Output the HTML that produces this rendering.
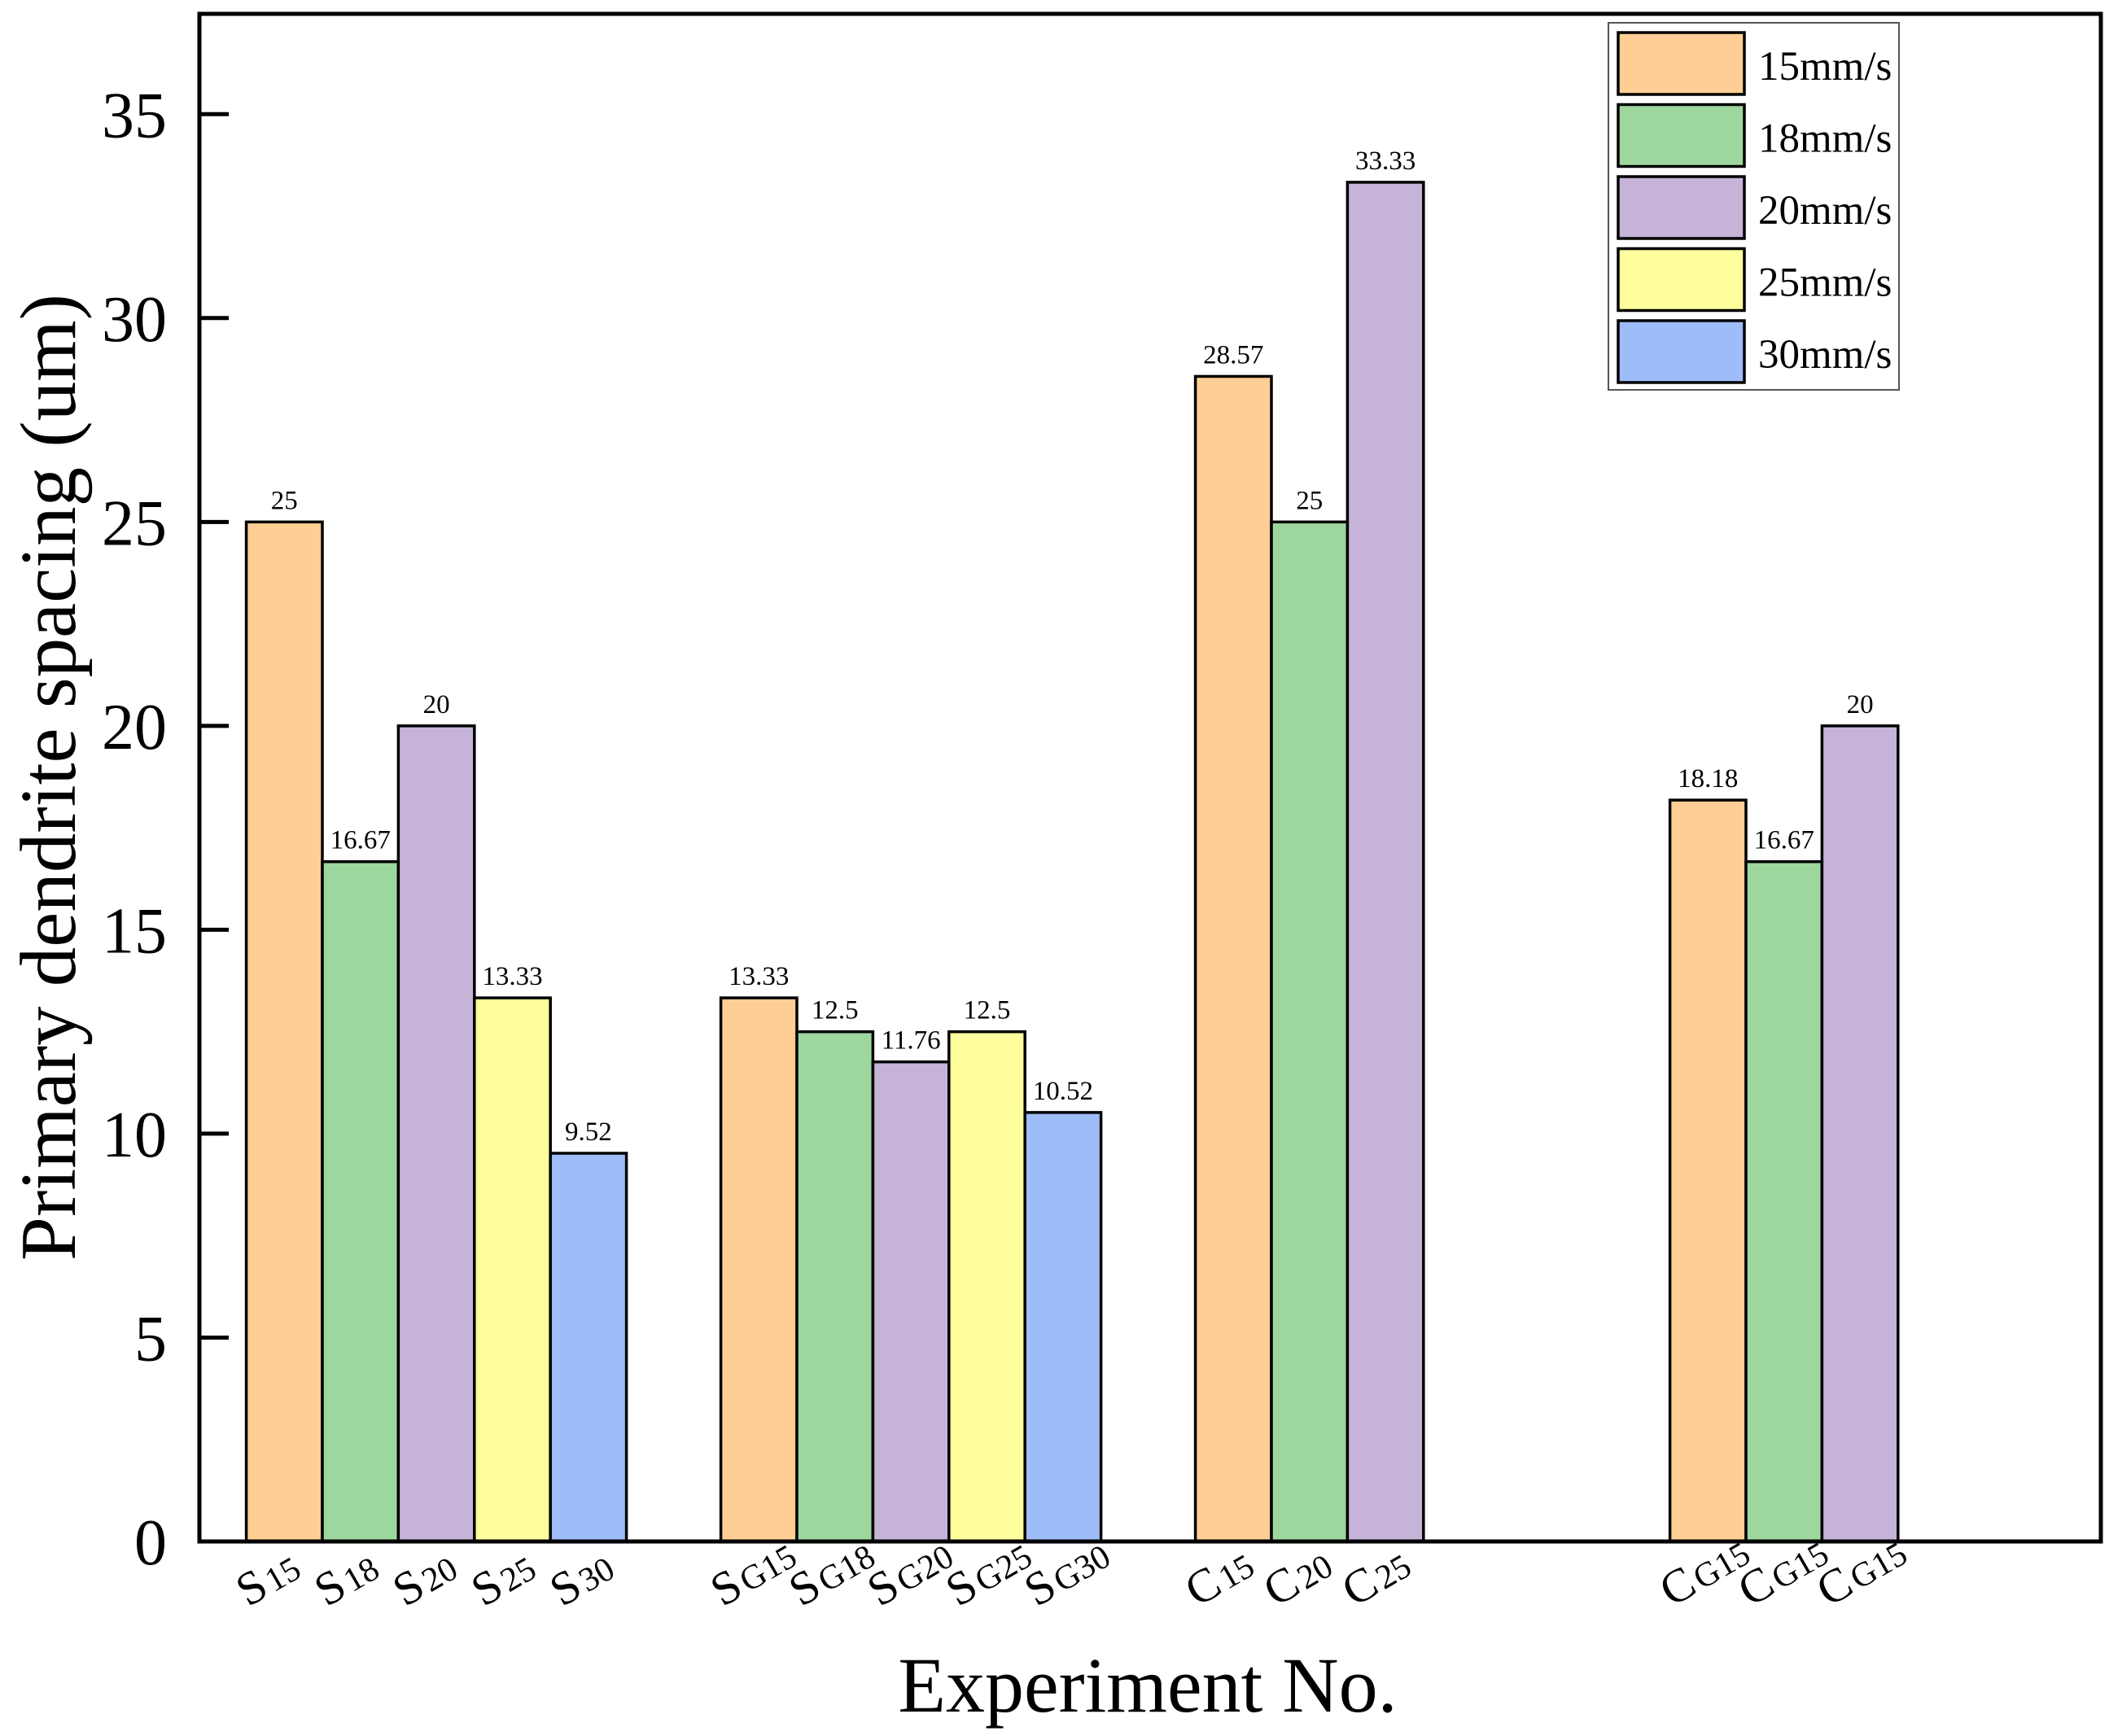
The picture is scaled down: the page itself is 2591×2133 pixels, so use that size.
<!DOCTYPE html>
<html><head><meta charset="utf-8"><style>
html,body{margin:0;padding:0;background:#fff;}
svg{display:block;font-family:"Liberation Serif",serif;}
</style></head><body>
<svg id="chart" width="2591" height="2133" viewBox="0 0 2591 2133" xmlns="http://www.w3.org/2000/svg">
<g id="bars"></g>
<g id="ticks"></g>
<g id="xlabels"></g>
<rect x="245" y="17" width="2336" height="1877" fill="none" stroke="#000" stroke-width="5"/>
<text x="0" y="0" transform="translate(92,955) rotate(-90)" text-anchor="middle" font-size="97">Primary dendrite spacing (um)</text>
<text x="1410" y="2103" text-anchor="middle" font-size="96">Experiment No.</text>
<g id="legend"></g>
</svg>
<script>
const groups = ["S","SG","C","CG"];
const seriesNames = ["15mm/s","18mm/s","20mm/s","25mm/s","30mm/s"];
const colors = ["#FECE94","#9ED79D","#C6B4D8","#FFFE9D","#9EBCF7"];
const groupValues = [
  [25, 16.67, 20, 13.33, 9.52],
  [13.33, 12.5, 11.76, 12.5, 10.52],
  [28.57, 25, 33.33],
  [18.18, 16.67, 20]
];
const valueLabels = [
  ["25","16.67","20","13.33","9.52"],
  ["13.33","12.5","11.76","12.5","10.52"],
  ["28.57","25","33.33"],
  ["18.18","16.67","20"]
];
const catMain = [["S","S","S","S","S"],["S","S","S","S","S"],["C","C","C"],["C","C","C"]];
const catSub = [["15","18","20","25","30"],["G15","G18","G20","G25","G30"],["15","20","25"],["G15","G15","G15"]];
const yTicks = [0,5,10,15,20,25,30,35];

const NS="http://www.w3.org/2000/svg";
const y0=1894, yTop=17, yMax=37.46;
function yPos(v){return y0-(v/yMax)*(y0-yTop);}
const groupStart=302.6, groupStep=583, barW=93.4;
function xPos(g,i){return groupStart+g*groupStep+i*barW;}

const bars=document.getElementById('bars');
groupValues.forEach((vals,g)=>{
  vals.forEach((v,i)=>{
    const r=document.createElementNS(NS,'rect');
    r.setAttribute('x',xPos(g,i));r.setAttribute('y',yPos(v));
    r.setAttribute('width',barW);r.setAttribute('height',y0-yPos(v));
    r.setAttribute('fill',colors[i]);r.setAttribute('stroke','#000');r.setAttribute('stroke-width','3.5');
    
    
    bars.appendChild(r);
    const t=document.createElementNS(NS,'text');
    t.setAttribute('x',xPos(g,i)+barW/2);t.setAttribute('y',yPos(v)-16);
    t.setAttribute('text-anchor','middle');t.setAttribute('font-size','33');
    t.textContent=valueLabels[g][i];
    
    
    bars.appendChild(t);
    const lab=document.createElementNS(NS,'text');
    const lx=xPos(g,i)+2+i*3, ly=1975;
    lab.setAttribute('transform','translate('+lx+','+ly+') rotate(-30)');
    lab.setAttribute('font-size','58');
    const m=document.createElementNS(NS,'tspan');m.textContent=catMain[g][i];lab.appendChild(m);
    const s=document.createElementNS(NS,'tspan');s.setAttribute('font-size','42');s.setAttribute('dx','4');s.textContent=catSub[g][i];lab.appendChild(s);
    
    
    document.getElementById('xlabels').appendChild(lab);
  });
});
const ticks=document.getElementById('ticks');
yTicks.forEach(v=>{
  const l=document.createElementNS(NS,'line');
  l.setAttribute('x1',245);l.setAttribute('x2',281);l.setAttribute('y1',yPos(v));l.setAttribute('y2',yPos(v));
  l.setAttribute('stroke','#000');l.setAttribute('stroke-width','5');
  
  
  ticks.appendChild(l);
  const t=document.createElementNS(NS,'text');
  t.setAttribute('x',205);t.setAttribute('y',yPos(v)+28);t.setAttribute('text-anchor','end');t.setAttribute('font-size','80');
  t.textContent=v;
  
  
  ticks.appendChild(t);
});
const leg=document.getElementById('legend');
const box=document.createElementNS(NS,'rect');
box.setAttribute('x',1976);box.setAttribute('y',28);box.setAttribute('width',357);box.setAttribute('height',451);
box.setAttribute('fill','#fff');box.setAttribute('stroke','#555');box.setAttribute('stroke-width','2');


leg.appendChild(box);
seriesNames.forEach((n,i)=>{
  const r=document.createElementNS(NS,'rect');
  const ry=40+i*88.5;
  r.setAttribute('x',1988);r.setAttribute('y',ry);r.setAttribute('width',155);r.setAttribute('height',76);
  r.setAttribute('fill',colors[i]);r.setAttribute('stroke','#000');r.setAttribute('stroke-width','3.5');
  
  
  leg.appendChild(r);
  const t=document.createElementNS(NS,'text');
  t.setAttribute('x',2160);t.setAttribute('y',ry+58);t.setAttribute('font-size','51');
  t.textContent=n;
  
  
  leg.appendChild(t);
});
</script>
</body></html>
